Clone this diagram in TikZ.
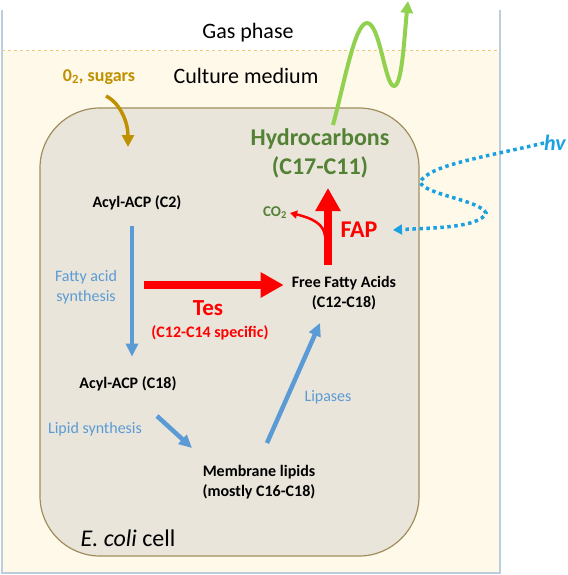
\documentclass[tikz,border=0pt]{standalone}
\usepackage{fontspec}
\setmainfont{Carlito}
\usetikzlibrary{arrows.meta}

\definecolor{cream}{HTML}{FFF9E9}
\definecolor{framec}{HTML}{BCCEDD}
\definecolor{sandline}{HTML}{F0CC78}
\definecolor{cellfill}{HTML}{E9E5DB}
\definecolor{cellline}{HTML}{A08E5E}
\definecolor{gold}{HTML}{BF9000}
\definecolor{pathblue}{HTML}{5B9BD5}
\definecolor{hcgreen}{HTML}{548235}
\definecolor{wavegreen}{HTML}{92D050}
\definecolor{lightblue}{HTML}{1BA1E2}

\tikzset{
  txt/.style={inner sep=0pt, font=\fontsize{16}{20}\selectfont\bfseries, align=center},
  bluetxt/.style={inner sep=0pt, font=\fontsize{16}{20}\selectfont, text=pathblue, align=center},
  bluearr/.style={pathblue, line width=4.5pt, -{Triangle[length=13pt,width=12pt]}},
  redarr/.style={red, line width=8pt, -{Triangle[length=23pt,width=24pt]}},
}

\begin{document}
\begin{tikzpicture}[x=1pt,y=-1pt]
\useasboundingbox (0,0) rectangle (567,575);
% medium
\fill[cream] (2,51) rectangle (500,573);
\draw[sandline, dashed, line width=1pt] (2,51) -- (500,51);
\draw[framec, line width=1.5pt] (2,10) -- (2,573) -- (500,573) -- (500,10);
\node[font=\fontsize{22}{26}\selectfont] (gas) at (248,33) {Gas phase};
\node[font=\fontsize{22}{26}\selectfont] (medium) at (246,76) {Culture medium};
\node[inner sep=0pt, text=gold, font=\fontsize{18}{22}\selectfont\bfseries] (sugars) at (99,77) {0\textsubscript{2}, sugars};
\node[inner sep=0pt, text=lightblue, font=\fontsize{22}{26}\selectfont\bfseries\itshape] (hv) at (555,143) {hv};
% cell
\draw[cellline, fill=cellfill, line width=1.2pt, rounded corners=60pt] (40,108) rectangle (419,556);
\node[inner sep=0pt, font=\fontsize{24}{29}\selectfont] (ecoli) at (128,538) {\textit{E. coli} cell};

\node[txt] (acyl2) at (137,203) {Acyl-ACP (C2)};
\node[txt] (acyl18) at (128,384) {Acyl-ACP (C18)};
\node[txt] (ffa) at (344,293) {Free Fatty Acids\\(C12-C18)};
\node[txt] (memb) at (259,482) {Membrane lipids\\ (mostly C16-C18)};
\node[bluetxt] (fas) at (86,287) {Fatty acid\\synthesis};
\node[bluetxt] (lipsyn) at (95,429) {Lipid synthesis};
\node[bluetxt] (lipases) at (328,397) {Lipases};
\node[inner sep=0pt, text=hcgreen, font=\fontsize{24}{29}\selectfont\bfseries, align=center] (hydro) at (320,153) {Hydrocarbons\\(C17-C11)};
\node[inner sep=0pt, text=red, font=\fontsize{23}{28}\selectfont\bfseries] (tes) at (208,308) {Tes};
\node[inner sep=0pt, text=red, font=\fontsize{16}{20}\selectfont\bfseries] (spec) at (210,333) {(C12-C14 specific)};
\node[inner sep=0pt, text=red, font=\fontsize{24}{29}\selectfont\bfseries] (fap) at (359,230) {FAP};
\node[inner sep=0pt, text=hcgreen, font=\fontsize{15}{18}\selectfont\bfseries] (co2) at (275,213) {CO\textsubscript{2}};

\coordinate (tesS) at (144,285);
\coordinate (fapS) at (328,265);
\coordinate (fapE) at (328,188);
\coordinate (co2S) at (325,236);
\coordinate (lsS) at (157,416);
\coordinate (lsE) at (192,448);
\coordinate (lpS) at (267,443);
\coordinate (lpE) at (320,323);
\coordinate (wave) at (333,125);
\coordinate (gasE) at (408,1);
\coordinate (sugS) at (106,96);
\coordinate (sugE) at (128,147);
\coordinate (lightE) at (393,230);

\draw[bluearr, shorten <=16pt, shorten >=20pt] ([xshift=-5pt]acyl2.south) -- ([xshift=4pt]acyl18.north);
\draw[bluearr] (lsS) -- (lsE);
\draw[bluearr] (lpS) -- (lpE);
\draw[redarr, shorten >=8pt] (tesS) -- (tesS -| ffa.west);
\draw[redarr] (fapS) -- (fapE);
\draw[red, line width=2.5pt, -{Triangle[length=7pt,width=8pt]}] (co2S) .. controls (324,224) and (312,218) .. ([xshift=3pt]co2.east);
\draw[gold, line width=3.5pt, -{Triangle[length=12pt,width=12pt]}] (sugS) .. controls (120,103) and (128,122) .. (sugE);
\draw[wavegreen, line width=4pt, -{Triangle[length=12pt,width=12pt]}] (wave) .. controls (345,80) and (355,23) .. (367,23)
  .. controls (380,23) and (385,86) .. (394,86) .. controls (402,86) and (404,40) .. (gasE);
\draw[lightblue, line width=3.5pt, dash pattern=on 3.5pt off 3.5pt, -{Triangle[length=9pt,width=10pt]}]
  (hv.west) .. controls (480,158) and (430,165) .. (420,182)
  .. controls (425,195) and (480,200) .. (486,213)
  .. controls (480,228) and (430,228) .. (lightE);
\end{tikzpicture}
\end{document}
